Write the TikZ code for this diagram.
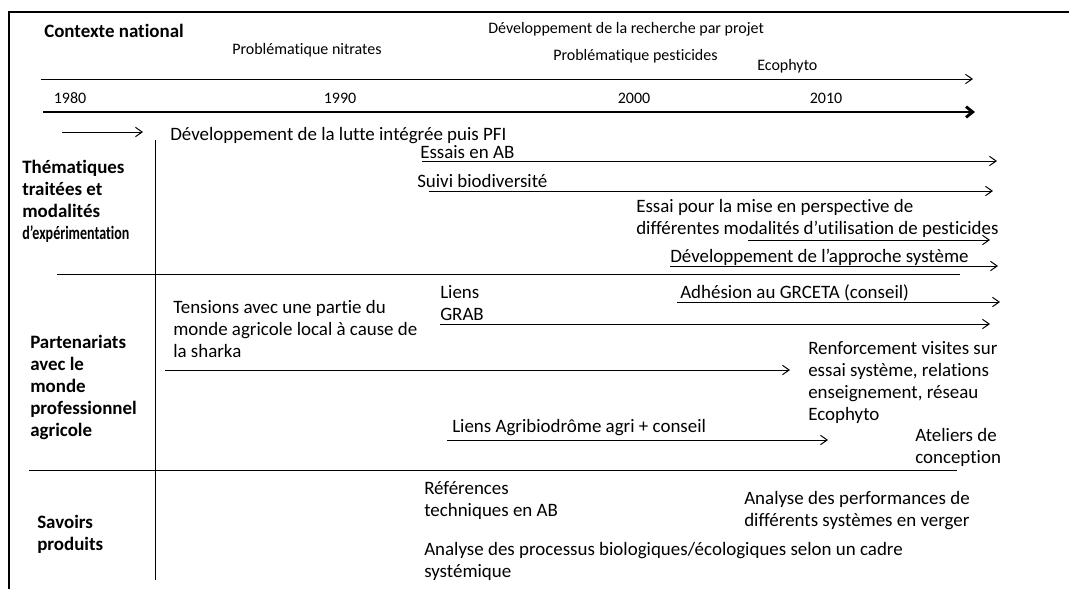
\documentclass[tikz,border=0pt]{standalone}
\usepackage{fontspec}
\setmainfont{Carlito}[Ligatures={NoCommon}]
\usetikzlibrary{arrows.meta}
\newcommand\mlines[1]{\begin{tabular}[t]{@{}l@{}}#1\end{tabular}}
\tikzset{
  body/.style={font=\fontsize{14.2}{16.6}\selectfont, inner sep=0pt, anchor=base west},
  toptxt/.style={font=\fontsize{12}{14.5}\selectfont, inner sep=0pt, anchor=base west},
  year/.style={font=\fontsize{12}{14.5}\selectfont, inner sep=0pt, anchor=base},
  head/.style={font=\bfseries\fontsize{14.2}{16.6}\selectfont, inner sep=0pt, anchor=base west},
  arr/.style={-{Straight Barb[length=5pt,width=7pt]}, line width=0.75pt},
  sepline/.style={line width=0.75pt},
  thickarr/.style={-{Straight Barb[length=5pt,width=8pt]}, line width=2.2pt}
}
\begin{document}
\begin{tikzpicture}[x=0.75pt,y=-0.75pt]
\useasboundingbox (0,0) rectangle (1069,589);
% frame
\draw[line width=1.4pt] (1069,12) -- (9,12) -- (9,589);
% national context
\node[head] (ctx) at (44,37) {Contexte national};
\node[toptxt] (rech) at (488,33) {Développement de la recherche par projet};
\node[toptxt] (nitr) at (232,54) {Problématique nitrates};
\node[toptxt] (pest) at (553,60) {Problématique pesticides};
\node[toptxt] (eco) at (757,70) {Ecophyto};
\draw[arr] (41,79) -- (973,79);
\node[year] (y80) at (70,103) {1980};
\node[year] (y90) at (340,103) {1990};
\node[year] (y00) at (634,103) {2000};
\node[year] (y10) at (826,103) {2010};
\draw[thickarr] (43,112) -- (975,112);
% section 1
\draw[arr] (62,132) -- (143,132);
\node[body] (pfi) at (170,140) {Développement de la lutte intégrée puis PFI};
\draw[sepline] (155,140) -- (155,580);
\node[head] (h1) at (22,173) {\mlines{Thématiques\\traitées et\\modalités\\\scalebox{0.74}[1]{d’expérimentation}}};
\node[body] (ab) at (420,158) {Essais en AB};
\draw[arr] (422,161) -- (997,161);
\node[body] (bio) at (417,187) {Suivi biodiversité};
\draw[arr] (429,191) -- (993,191);
\node[body] (mod) at (636,212) {\mlines{Essai pour la mise en perspective de\\différentes modalités d’utilisation de pesticides}};
\draw[arr] (748,240) -- (990,240);
\node[body] (sys) at (670,262) {Développement de l’approche système};
\draw[arr] (670,266) -- (998,266);
\draw[sepline] (57,274) -- (960,274);
% section 2
\node[head] (h2) at (30,348) {\mlines{Partenariats\\avec le\\monde\\professionnel\\agricole}};
\node[body] (grab) at (440,298) {\mlines{Liens\\GRAB}};
\node[body] (grc) at (680,298) {Adhésion au GRCETA (conseil)};
\draw[arr] (677,302) -- (1000,302);
\draw[arr] (440,324) -- (990,324);
\node[body] (tens) at (173,313) {\mlines{Tensions avec une partie du\\monde agricole local à cause de\\la sharka}};
\draw[arr] (165,370) -- (790,370);
\node[body] (renf) at (808,354) {\mlines{Renforcement visites sur\\essai système, relations\\enseignement, réseau\\Ecophyto}};
\node[body] (agri) at (452,432) {Liens Agribiodrôme agri + conseil};
\draw[arr] (447,440) -- (828,440);
\node[body] (atel) at (915,441) {\mlines{Ateliers de\\conception}};
\draw[sepline] (29,470) -- (957,470);
% section 3
\node[head] (h3) at (37,528) {\mlines{Savoirs\\produits}};
\node[body] (ref) at (424,494) {\mlines{Références\\techniques en AB}};
\node[body] (perf) at (744,504) {\mlines{Analyse des performances de\\différents systèmes en verger}};
\node[body] (proc) at (424,555) {\mlines{Analyse des processus biologiques/écologiques selon un cadre\\systémique}};
\end{tikzpicture}
\end{document}
